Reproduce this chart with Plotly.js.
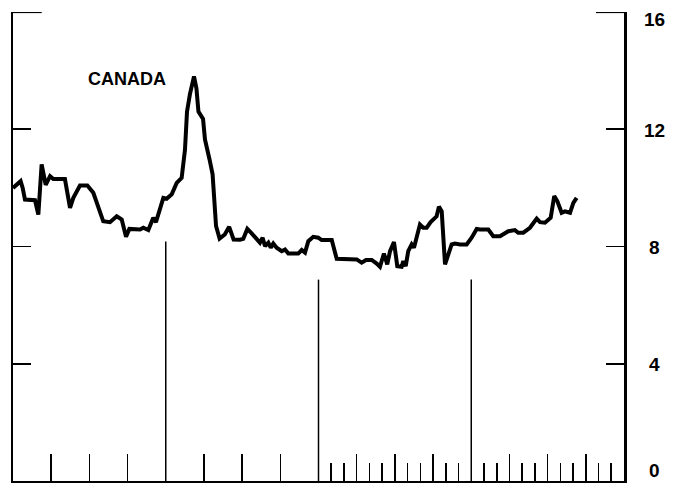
<!DOCTYPE html>
<html>
<head>
<meta charset="utf-8">
<script src="https://cdn.plot.ly/plotly-3.0.1.min.js"></script>
<style>html,body{margin:0;padding:0;background:#fff;}#chart{width:684px;height:483px;}</style>
</head>
<body>
<div id="chart"></div>
<script>
// Time in months from start of chart (4 equal yearly segments of 12 months)
const months = [0,0.6,0.76,0.94,1.73,1.99,2.25,2.57,2.91,3.17,4.08,4.48,4.74,5.26,5.84,6.31,7.09,7.62,8.15,8.54,8.88,9.14,9.98,10.24,10.63,11.02,11.23,11.81,12.07,12.47,12.86,13.25,13.51,13.67,13.9,14.22,14.41,14.57,14.93,15.08,15.44,15.68,15.95,16.23,16.64,16.98,17.33,17.83,18.09,18.41,18.75,19.14,19.4,19.61,19.8,20.06,20.25,20.45,20.71,21.11,21.37,21.63,22.41,22.68,22.94,23.2,23.59,23.98,24.25,25.04,25.43,27.0,27.39,27.73,28.18,28.57,28.83,29.14,29.4,29.62,29.93,30.19,30.53,30.66,30.85,31.05,31.32,31.5,31.71,31.97,32.23,32.5,32.81,33.07,33.28,33.46,33.68,33.94,34.2,34.46,34.72,35.11,35.64,36.03,36.43,36.69,37.34,37.73,38.26,38.65,38.91,39.43,39.69,40.09,40.61,41.14,41.4,41.79,42.24,42.52,42.76,43.1,43.36,43.76,44.02,44.28];
const canada = [10.0,10.23,10.0,9.6,9.58,9.09,10.8,10.1,10.4,10.3,10.3,9.32,9.66,10.08,10.08,9.83,8.86,8.83,9.03,8.92,8.33,8.6,8.58,8.64,8.56,8.98,8.83,9.66,9.63,9.78,10.17,10.34,11.3,12.6,13.2,13.8,13.4,12.6,12.35,11.65,10.97,10.46,8.7,8.27,8.41,8.67,8.24,8.23,8.26,8.6,8.45,8.23,8.13,8.3,8.01,8.13,7.96,8.1,7.96,7.84,7.9,7.76,7.76,7.88,7.79,8.18,8.33,8.3,8.22,8.22,7.58,7.56,7.45,7.54,7.54,7.42,7.31,7.76,7.39,7.84,8.15,7.33,7.31,7.5,7.33,7.84,8.07,7.96,8.33,8.75,8.64,8.64,8.83,8.92,9.03,9.36,9.2,7.39,7.79,8.07,8.1,8.07,8.07,8.3,8.6,8.58,8.58,8.35,8.35,8.47,8.52,8.56,8.47,8.47,8.64,8.95,8.83,8.81,8.98,9.72,9.55,9.15,9.2,9.15,9.49,9.66];

const yTicks = [0,4,8,12,16];
const yTickLabels = ['0','4','8','12','16'];
const quarterTicks = [3,6,9,15,18,21,27,30,33,39,42,45];
const monthTicks = [25,26,28,29,31,32,34,35,37,38,40,41,43,44,46,47];
const yearBreaks = [12,24,36];
const yearBreakTops = [8.17,6.87,6.87];
const seriesLabel = 'CANADA';

const bx = [], by = [];
yearBreaks.forEach((x,i)=>{bx.push(x,x,null); by.push(0,yearBreakTops[i],null);});

const traces = [
  {x: bx, y: by, mode:'lines', line:{color:'#000', width:1.5}, hoverinfo:'skip', showlegend:false},
  {x: months, y: canada, mode:'lines', line:{color:'#000', width:4}, showlegend:false}
];

const labelFont = {family:'Liberation Sans, Arial, sans-serif', size:19, color:'#000', weight:'bold'};
const ann = yTicks.map((v,i)=>({
  x:1, xref:'paper', y:v, yref:'y', text:yTickLabels[i], showarrow:false,
  xanchor:'center', yanchor:'middle', xshift:30,
  yshift: v===0 ? 11 : (v===16 ? -7 : -1), font:labelFont
}));
ann.push({x:0.187, xref:'paper', y:(481.7-79)/29.33, yref:'y', text:seriesLabel, showarrow:false,
  font:{family:'Liberation Sans, Arial, sans-serif', size:18, color:'#000', weight:'bold'}, xanchor:'center', yanchor:'middle'});

const layout = {
  width:684, height:483,
  margin:{l:13, r:60, t:12, b:2},
  paper_bgcolor:'#fff', plot_bgcolor:'#fff',
  xaxis:{range:[0,48], showgrid:false, zeroline:false, showline:true, linecolor:'#000', linewidth:2.5,
    tickmode:'array', tickvals:quarterTicks, ticks:'inside', ticklen:27, tickwidth:1.6, tickcolor:'#000',
    showticklabels:false,
    minor:{tickmode:'array', tickvals:monthTicks, ticks:'inside', ticklen:18, tickwidth:1.6, tickcolor:'#000', showgrid:false}},
  yaxis:{range:[0,16], showgrid:false, zeroline:false, showline:true, linecolor:'#000', linewidth:2.5, mirror:'ticks',
    tickmode:'array', tickvals:yTicks, ticks:'inside', ticklen:18, tickwidth:1.6, tickcolor:'#000', showticklabels:false},
  shapes:[
    {type:'line', xref:'paper', yref:'y', x0:0, x1:0.047, y0:16, y1:16, line:{color:'#000', width:2.2}},
    {type:'line', xref:'paper', yref:'y', x0:0.954, x1:1, y0:16, y1:16, line:{color:'#000', width:2.2}}
  ],
  annotations: ann
};

Plotly.newPlot('chart', traces, layout, {staticPlot:true, displayModeBar:false});
</script>
</body>
</html>
